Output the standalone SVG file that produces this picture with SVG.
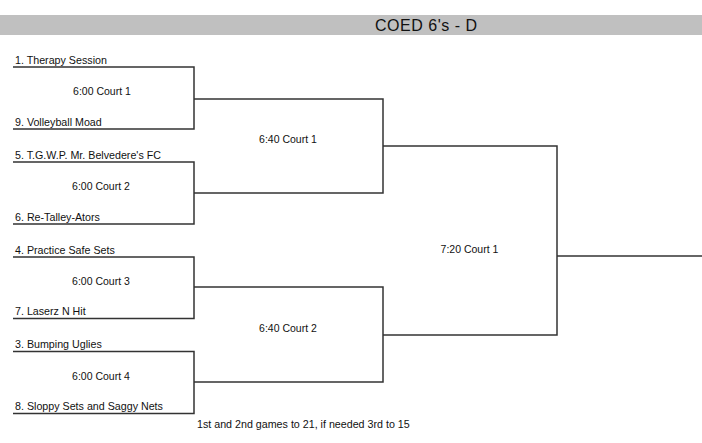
<svg xmlns="http://www.w3.org/2000/svg" width="702" height="443" viewBox="0 0 702 443">
<style>
  text { font-family: "Liberation Sans", Arial, sans-serif; fill: #111; }
  .team { font-size: 10.7px; }
  .match { font-size: 10.5px; text-anchor: middle; }
  .title { font-size: 16px; }
  .note { font-size: 10.7px; }
  #connectors path { fill: none; stroke: #333; stroke-width: 1.5; }
</style>
<rect x="0" y="15" width="702" height="20" fill="#c0c0c0"/>
<g id="title"><text class="title" x="375" y="31" textLength="102">COED 6's - D</text></g>

<g id="connectors">
  <path d="M13 67 H194 V129 H13"/>
  <path d="M13 162 H194 V224 H13"/>
  <path d="M13 257 H194 V318.5 H13"/>
  <path d="M13 351.5 H194 V413.5 H13"/>
  <path d="M194 99 H383 V193 H194"/>
  <path d="M194 287 H383 V382 H194"/>
  <path d="M383 146 H557 V335 H383"/>
  <path d="M557 256 H702"/>
</g>

<g id="team1"><text class="team" x="15" y="63.5">1. Therapy Session</text></g>
<g id="team9"><text class="team" x="15" y="125.5">9. Volleyball Moad</text></g>
<g id="team5"><text class="team" x="15" y="158.5">5. T.G.W.P. Mr. Belvedere's FC</text></g>
<g id="team6"><text class="team" x="15" y="220.5">6. Re-Talley-Ators</text></g>
<g id="team4"><text class="team" x="15" y="253.5">4. Practice Safe Sets</text></g>
<g id="team7"><text class="team" x="15" y="315">7. Laserz N Hit</text></g>
<g id="team3"><text class="team" x="15" y="347.5">3. Bumping Uglies</text></g>
<g id="team8"><text class="team" x="15" y="410">8. Sloppy Sets and Saggy Nets</text></g>

<g id="m1"><text class="match" x="102" y="95">6:00 Court 1</text></g>
<g id="m2"><text class="match" x="101" y="190">6:00 Court 2</text></g>
<g id="m3"><text class="match" x="101" y="285">6:00 Court 3</text></g>
<g id="m4"><text class="match" x="101" y="380">6:00 Court 4</text></g>
<g id="m5"><text class="match" x="288" y="143">6:40 Court 1</text></g>
<g id="m6"><text class="match" x="288" y="332">6:40 Court 2</text></g>
<g id="m7"><text class="match" x="469.5" y="253">7:20 Court 1</text></g>

<g id="footer"><text class="note" x="197" y="428">1st and 2nd games to 21, if needed 3rd to 15</text></g>
</svg>
